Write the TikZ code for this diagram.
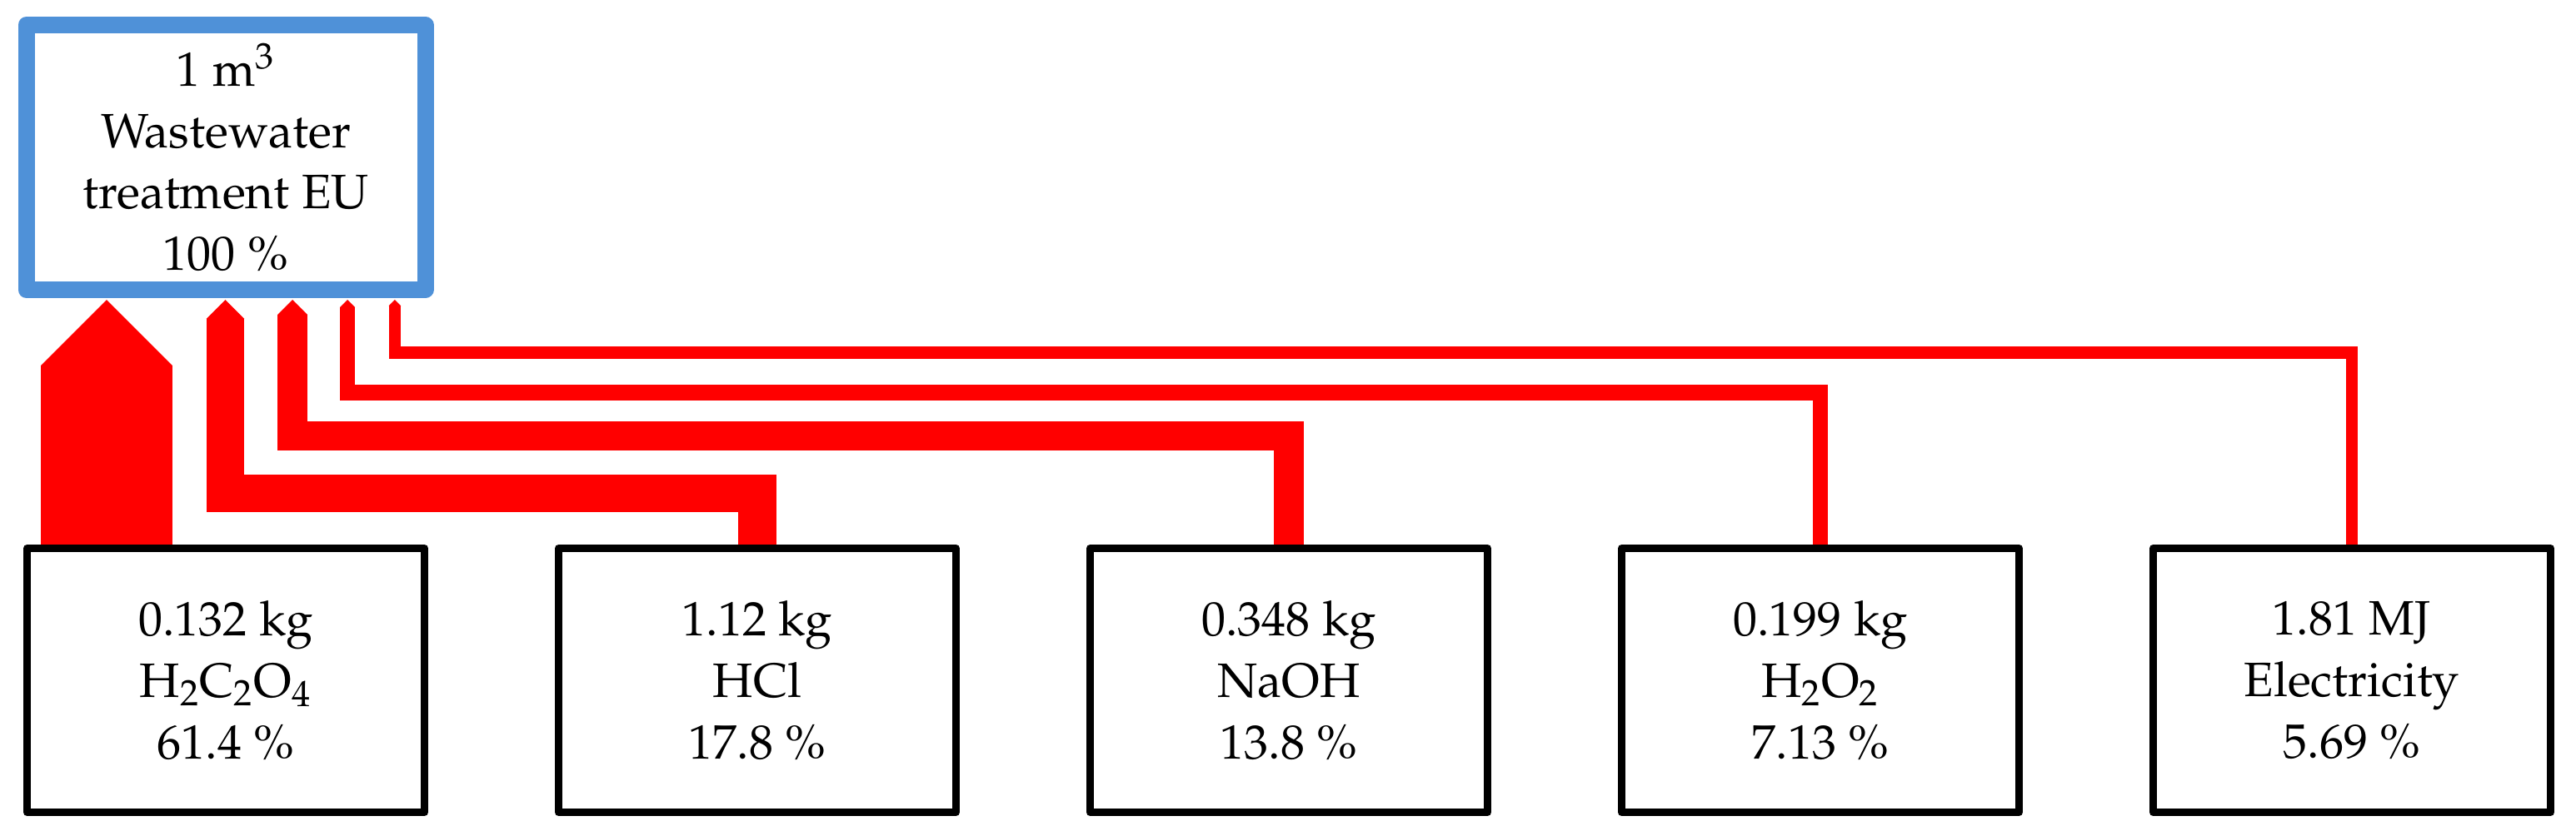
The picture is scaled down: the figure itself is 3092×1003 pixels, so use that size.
\documentclass[tikz,border=0pt]{standalone}
\usepackage[T1]{fontenc}
\usepackage{mathpazo}
\usetikzlibrary{calc,positioning}
\definecolor{boxblue}{RGB}{79,145,216}

\begin{document}
\begin{tikzpicture}[
	%	style def
	x=0.1mm, y=0.1mm,
	node distance=15.2mm,
	every node/.style={color=black, align=center, font=\fontsize{16.5}{21}\selectfont},
	main box/.style={draw=boxblue, line width=2mm, line join=round, minimum width=47.9mm, minimum height=31.8mm, inner sep=0pt},
	input box/.style={draw=black, line width=0.9mm, line join=round, minimum width=47.7mm, minimum height=31.7mm, inner sep=0pt},
	flow line/.style={draw=red, line join=miter}
	]
	\useasboundingbox (0,0) rectangle (3092,1003);

	% input boxes in a row
	\node[input box] (oxalic) at (271,186) {0.132 kg\\H$_2$C$_2$O$_4$\\61.4 \%};
	\node[input box, right=of oxalic] (hcl) {1.12 kg\\HCl\\17.8 \%};
	\node[input box, right=of hcl] (naoh) {0.348 kg\\NaOH\\13.8 \%};
	\node[input box, right=of naoh] (peroxide) {0.199 kg\\H$_2$O$_2$\\7.13 \%};
	\node[input box, right=of peroxide] (elec) {1.81 MJ\\Electricity\\5.69 \%};

	% reference flow
	\node[main box, above=29.6mm of oxalic] (wwt) {1 m$^3$\\Wastewater\\treatment EU\\100 \%};

	% arrow tips under the treatment box
	\coordinate (t1) at ($(wwt.south)+(-143,-2)$);
	\coordinate (t2) at ($(wwt.south)+(-0.5,-2)$);
	\coordinate (t3) at ($(wwt.south)+(80.2,-2)$);
	\coordinate (t4) at ($(wwt.south)+(146.2,-2)$);
	\coordinate (t5) at ($(wwt.south)+(202.9,-2)$);
	% shoulders of the tips
	\coordinate (s1) at ($(t1)+(0,-79)$);
	\coordinate (s2) at ($(t2)+(0,-22.9)$);
	\coordinate (s3) at ($(t3)+(0,-17.75)$);
	\coordinate (s4) at ($(t4)+(0,-9.2)$);
	\coordinate (s5) at ($(t5)+(0,-7.35)$);
	% corners of the bands
	\coordinate (c2) at ($(t2)+(0,-232.5)$);
	\coordinate (c3) at ($(t3)+(0,-163.3)$);
	\coordinate (c4) at ($(t4)+(0,-111.3)$);
	\coordinate (c5) at ($(t5)+(0,-63.3)$);

	% flows, width by share
	\draw[flow line, line width=15.8mm] (oxalic.north -| t1) -- (s1);
	\draw[flow line, line width=4.58mm] (hcl.north) |- (c2) -- (s2);
	\draw[flow line, line width=3.55mm] (naoh.north) |- (c3) -- (s3);
	\draw[flow line, line width=1.84mm] (peroxide.north) |- (c4) -- (s4);
	\draw[flow line, line width=1.47mm] (elec.north) |- (c5) -- (s5);

	% pointed ends
	\fill[red] ($(s1)+(-79,0)$) -- (t1) -- ($(s1)+(79,0)$) -- cycle;
	\fill[red] ($(s2)+(-22.9,0)$) -- (t2) -- ($(s2)+(22.9,0)$) -- cycle;
	\fill[red] ($(s3)+(-17.75,0)$) -- (t3) -- ($(s3)+(17.75,0)$) -- cycle;
	\fill[red] ($(s4)+(-9.2,0)$) -- (t4) -- ($(s4)+(9.2,0)$) -- cycle;
	\fill[red] ($(s5)+(-7.35,0)$) -- (t5) -- ($(s5)+(7.35,0)$) -- cycle;
\end{tikzpicture}
\end{document}
